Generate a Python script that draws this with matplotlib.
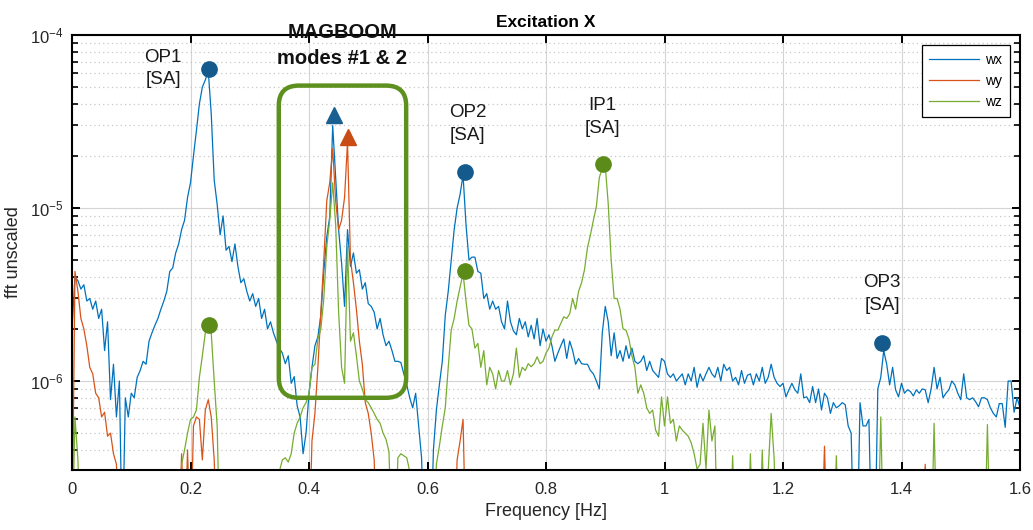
import numpy as np
import matplotlib
matplotlib.use("Agg")
import matplotlib.pyplot as plt
from matplotlib.patches import FancyBboxPatch
from matplotlib.transforms import IdentityTransform

plt.rcParams['font.family'] = ['Liberation Sans', 'DejaVu Sans']
plt.rcParams['mathtext.default'] = 'regular'

# ---------------- data (amplitudes in units of 1e-6) ----------------
freq_step = 0.005  # Hz between FFT bins

wx_u = [
    2.0, 4.0, 3.8, 3.4, 3.6, 2.9, 3.0, 2.6, 2.9, 2.3, 2.6, 1.5, 2.2, 0.78, 1.25, 0.62, 1.0, 0.1, 0.8, 0.62,
    0.85, 0.8, 1.05, 1.15, 1.3, 1.25, 1.7, 1.9, 2.1, 2.3, 2.6, 2.9, 3.3, 4.3, 4.5, 5.5, 6.2, 7.5, 8.5, 11.5,
    14.0, 20, 28, 40, 50, 55, 62, 35, 14.5, 10.5, 7.0, 9.0, 5.7, 6.0, 4.9, 6.2, 4.6, 3.7, 3.9, 3.3,
    2.9, 3.2, 2.7, 3.0, 2.3, 2.6, 2.0, 2.2, 1.9, 1.7, 1.55, 1.45, 1.26, 1.4, 0.97, 1.06, 0.72, 0.62, 0.38, 0.5,
    0.85, 1.2, 1.6, 1.8, 2.4, 4.3, 6.8, 8.9, 30, 15, 7.5, 4.8, 2.7, 7.5, 4.6, 5.5, 4.2, 4.4, 3.4, 3.7,
    2.8, 2.7, 2.5, 2.0, 2.3, 1.85, 1.6, 1.7, 1.5, 1.3, 1.3, 1.28, 1.1, 0.95, 0.8, 0.7, 0.85, 0.55, 0.36, 0.1,
    0.1, 0.1, 0.4, 0.68, 0.95, 1.3, 2.4, 3.3, 5.0, 7.5, 10, 12, 15.5, 8.0, 5.0, 5.2, 5.2, 4.3, 4.2, 3.0,
    3.2, 2.6, 2.9, 2.6, 2.7, 2.2, 2.0, 2.9, 2.2, 1.95, 1.85, 2.3, 2.0, 2.2, 1.8, 2.1, 1.75, 2.3, 1.6, 2.0,
    1.7, 1.85, 1.6, 1.3, 1.45, 1.6, 1.75, 1.35, 1.7, 1.5, 1.25, 1.35, 1.26, 1.25, 1.25, 1.15, 1.1, 1.0, 0.9, 1.9,
    2.7, 2.2, 1.4, 1.9, 1.35, 1.5, 1.3, 1.6, 1.35, 1.55, 1.3, 1.26, 1.3, 1.4, 1.15, 1.3, 1.15, 1.1, 1.05, 1.35,
    1.3, 1.1, 1.05, 1.1, 1.0, 1.05, 1.1, 0.95, 1.1, 1.0, 1.2, 0.92, 1.1, 1.0, 1.1, 1.2, 1.1, 1.05, 1.2, 1.0,
    1.25, 1.15, 1.2, 1.0, 1.05, 0.95, 1.15, 0.97, 1.08, 1.1, 0.95, 1.1, 1.0, 1.2, 0.97, 1.05, 1.25, 1.05, 0.97, 0.93,
    0.97, 0.81, 0.89, 0.97, 0.89, 0.85, 1.1, 0.8, 0.81, 0.75, 0.93, 0.75, 0.9, 0.68, 0.85, 0.8, 0.65, 0.75, 0.7, 0.72,
    0.75, 0.73, 0.55, 0.5, 0.1, 0.1, 0.75, 0.55, 0.55, 0.6, 0.1, 0.1, 0.9, 1.05, 1.5, 1.25, 0.95, 1.2, 0.89, 0.81,
    0.97, 0.85, 0.89, 0.87, 0.82, 0.89, 0.85, 0.9, 0.89, 0.75, 0.9, 1.2, 0.9, 1.05, 0.8, 0.85, 0.89, 1.0, 0.95, 0.85,
    0.78, 1.1, 0.8, 0.78, 0.8, 0.76, 0.71, 0.8, 0.8, 0.78, 0.7, 0.65, 0.62, 0.74, 0.74, 0.54, 1.0, 1.0, 0.66, 0.8, 0.7,
]

wy_u = [
    0.1, 4.3, 3.3, 2.3, 2.0, 1.6, 1.2, 1.1, 0.85, 0.8, 0.62, 0.66, 0.48, 0.5, 0.38, 0.33, 0.1, 0.1, 0.1, 0.1,
    0.1, 0.1, 0.1, 0.1, 0.1, 0.1, 0.1, 0.1, 0.1, 0.1, 0.1, 0.1, 0.1, 0.1, 0.1, 0.1, 0.1, 0.38, 0.1, 0.4,
    0.1, 0.55, 0.62, 0.6, 0.35, 0.68, 0.78, 0.62, 0.35, 0.1, 0.1, 0.1, 0.1, 0.1, 0.1, 0.1, 0.1, 0.1, 0.1, 0.1,
    0.1, 0.1, 0.1, 0.1, 0.1, 0.1, 0.1, 0.1, 0.1, 0.1, 0.1, 0.1, 0.1, 0.1, 0.1, 0.1, 0.1, 0.1, 0.1, 0.1,
    0.1, 0.45, 0.65, 1.2, 2.5, 5.0, 11, 14, 22, 11, 7.5, 8.5, 11.5, 24, 5.0, 3.7, 2.6, 1.7, 1.25, 0.75,
    0.65, 0.5, 0.35, 0.1, 0.1, 0.1, 0.1, 0.1, 0.1, 0.1, 0.1, 0.1, 0.1, 0.1, 0.1, 0.1, 0.1, 0.1, 0.1, 0.1,
    0.1, 0.1, 0.1, 0.1, 0.1, 0.1, 0.1, 0.1, 0.1, 0.1, 0.35, 0.45, 0.6, 0.1, 0.1, 0.1, 0.1, 0.1, 0.1, 0.1,
    0.1, 0.1, 0.1, 0.1, 0.1, 0.1, 0.1, 0.1, 0.1, 0.1, 0.1, 0.1, 0.1, 0.1, 0.1, 0.1, 0.1, 0.1, 0.1, 0.1,
    0.1, 0.1, 0.1, 0.1, 0.1, 0.1, 0.1, 0.1, 0.1, 0.1, 0.1, 0.1, 0.1, 0.1, 0.1, 0.1, 0.1, 0.1, 0.1, 0.1,
    0.1, 0.1, 0.1, 0.1, 0.1, 0.1, 0.1, 0.1, 0.1, 0.1, 0.1, 0.1, 0.1, 0.1, 0.1, 0.1, 0.1, 0.1, 0.1, 0.1,
    0.1, 0.1, 0.1, 0.1, 0.1, 0.1, 0.1, 0.1, 0.1, 0.1, 0.1, 0.1, 0.1, 0.1, 0.1, 0.1, 0.1, 0.1, 0.1, 0.1,
    0.1, 0.1, 0.1, 0.1, 0.1, 0.1, 0.1, 0.1, 0.1, 0.1, 0.1, 0.1, 0.1, 0.1, 0.1, 0.1, 0.3, 0.1, 0.1, 0.1,
    0.1, 0.1, 0.1, 0.1, 0.1, 0.1, 0.1, 0.1, 0.1, 0.1, 0.1, 0.1, 0.1, 0.1, 0.42, 0.1, 0.1, 0.1, 0.1, 0.1,
    0.1, 0.1, 0.1, 0.1, 0.1, 0.1, 0.1, 0.1, 0.1, 0.1, 0.1, 0.1, 0.1, 0.1, 0.1, 0.1, 0.1, 0.1, 0.1, 0.1,
    0.1, 0.1, 0.1, 0.1, 0.1, 0.1, 0.1, 0.1, 0.33, 0.1, 0.1, 0.1, 0.1, 0.1, 0.1, 0.1, 0.1, 0.1, 0.1, 0.1,
    0.1, 0.1, 0.1, 0.1, 0.1, 0.1, 0.1, 0.1, 0.1, 0.1, 0.1, 0.1, 0.1, 0.1, 0.1, 0.1, 0.1, 0.1, 0.1, 0.1, 0.1,
]

wz_u = [
    0.1, 0.62, 0.35, 0.1, 0.1, 0.1, 0.1, 0.1, 0.1, 0.1, 0.1, 0.1, 0.1, 0.1, 0.1, 0.1, 0.1, 0.1, 0.1, 0.1,
    0.1, 0.1, 0.1, 0.1, 0.1, 0.1, 0.1, 0.1, 0.1, 0.1, 0.1, 0.1, 0.1, 0.1, 0.1, 0.1, 0.1, 0.33, 0.4, 0.5,
    0.6, 0.62, 0.68, 1.05, 1.4, 1.9, 2.05, 1.9, 1.0, 0.55, 0.1, 0.1, 0.1, 0.1, 0.1, 0.1, 0.1, 0.1, 0.1, 0.1,
    0.1, 0.1, 0.1, 0.1, 0.1, 0.1, 0.1, 0.1, 0.1, 0.1, 0.3, 0.35, 0.36, 0.34, 0.38, 0.5, 0.57, 0.62, 0.7, 0.75,
    0.85, 1.2, 1.25, 1.75, 2.0, 3.0, 6.0, 8.5, 14, 8.0, 2.5, 1.2, 0.97, 6.0, 1.7, 1.9, 1.4, 1.0, 0.9, 0.78,
    0.75, 0.7, 0.65, 0.6, 0.57, 0.5, 0.46, 0.39, 0.1, 0.1, 0.36, 0.38, 0.37, 0.36, 0.3, 0.1, 0.1, 0.1, 0.1, 0.1,
    0.1, 0.1, 0.1, 0.33, 0.42, 0.55, 0.7, 1.2, 1.97, 2.3, 2.9, 3.5, 4.2, 2.9, 2.1, 2.0, 1.55, 1.65, 1.2, 1.5,
    0.95, 1.2, 1.1, 0.9, 1.15, 1.0, 1.0, 1.15, 0.95, 1.1, 1.55, 1.05, 1.2, 1.15, 1.26, 1.21, 1.26, 1.38, 1.26, 1.3,
    1.45, 1.55, 1.8, 1.97, 1.97, 2.15, 2.35, 2.3, 2.45, 3.0, 2.6, 3.3, 3.7, 4.4, 5.9, 7.0, 8.5, 10.2, 15, 17,
    17.5, 10.6, 5.0, 3.0, 3.0, 2.6, 2.0, 1.97, 1.75, 1.4, 1.2, 0.85, 0.95, 0.85, 0.7, 0.65, 0.68, 0.52, 0.48, 0.81,
    0.55, 0.81, 0.57, 0.6, 0.45, 0.55, 0.52, 0.5, 0.48, 0.44, 0.38, 0.31, 0.33, 0.57, 0.31, 0.68, 0.45, 0.55, 0.1, 0.1,
    0.1, 0.1, 0.1, 0.37, 0.1, 0.1, 0.1, 0.1, 0.1, 0.38, 0.1, 0.1, 0.1, 0.4, 0.1, 0.3, 0.65, 0.36, 0.1, 0.1,
    0.1, 0.1, 0.1, 0.1, 0.1, 0.1, 0.1, 0.1, 0.1, 0.1, 0.1, 0.1, 0.1, 0.1, 0.1, 0.1, 0.1, 0.1, 0.37, 0.1,
    0.1, 0.1, 0.1, 0.1, 0.1, 0.1, 0.1, 0.1, 0.1, 0.1, 0.1, 0.1, 0.1, 0.62, 0.1, 0.1, 0.1, 0.1, 0.1, 0.1,
    0.1, 0.1, 0.1, 0.1, 0.1, 0.1, 0.1, 0.1, 0.1, 0.1, 0.1, 0.57, 0.1, 0.1, 0.1, 0.1, 0.1, 0.1, 0.1, 0.1,
    0.1, 0.1, 0.1, 0.1, 0.1, 0.1, 0.1, 0.1, 0.1, 0.56, 0.1, 0.1, 0.1, 0.1, 0.1, 0.1, 0.1, 0.1, 0.1, 0.1, 0.1,
]

# marked peaks
sa_blue_freq = [0.232, 0.663, 1.367]
sa_blue_val_u = [64, 16.1, 1.65]
sa_green_freq = [0.232, 0.663, 0.896]
sa_green_val_u = [2.1, 4.3, 17.9]
mag_blue_freq, mag_blue_val_u = [0.442], [34.5]
mag_red_freq, mag_red_val_u = [0.466], [25.7]

mode_labels = ['OP1\n[SA]', 'OP2\n[SA]', 'IP1\n[SA]', 'OP3\n[SA]']
mode_label_freq = [0.154, 0.668, 0.895, 1.367]
mode_label_val_u = [64, 30.5, 33.5, 3.2]

series_names = ['wx', 'wy', 'wz']
series_colors = ['#0072BD', '#D95319', '#77AC30']

U = 1e-6
# ---------------------------------------------------------------

fig = plt.figure(figsize=(10.33, 5.30), dpi=100)
ax = fig.add_axes([72 / 1033, 60 / 530, (1020 - 72) / 1033, (470 - 35) / 530])

for vals, name, col in zip([wx_u, wy_u, wz_u], series_names, series_colors):
    f = np.arange(len(vals)) * freq_step
    ax.plot(f, np.array(vals) * U, color=col, lw=0.9, label=name)

ax.set_yscale('log')
ax.set_xlim(0, 1.6)
ax.set_ylim(3.06e-7, 1e-4)

# markers
ax.plot(sa_blue_freq, np.array(sa_blue_val_u) * U, 'o', ms=11, color='#145a8c', zorder=5)
ax.plot(sa_green_freq, np.array(sa_green_val_u) * U, 'o', ms=11, color='#5b8c1a', zorder=5)
ax.plot(mag_blue_freq, np.array(mag_blue_val_u) * U, '^', ms=11, color='#1a5f92', zorder=5)
ax.plot(mag_red_freq, np.array(mag_red_val_u) * U, '^', ms=11, color='#c84c14', zorder=5)

for lab, fx, vy in zip(mode_labels, mode_label_freq, mode_label_val_u):
    ax.text(fx, vy * U, lab, ha='center', va='center', fontsize=13.5,
            linespacing=1.45, color='#1a1a1a', zorder=6)

ax.text(0.456, 87 * U, 'MAGBOOM\nmodes #1 & 2', ha='center', va='center',
        fontsize=14.5, fontweight='bold', linespacing=1.45, color='#111111',
        clip_on=False, zorder=6)

# ticks / grid
ax.set_xticks([0, 0.2, 0.4, 0.6, 0.8, 1.0, 1.2, 1.4, 1.6])
ax.set_xticklabels(['0', '0.2', '0.4', '0.6', '0.8', '1', '1.2', '1.4', '1.6'])
ax.set_yticks([1e-6, 1e-5, 1e-4])
ax.set_yticklabels(['$10^{-6}$', '$10^{-5}$', '$10^{-4}$'])
ax.minorticks_on()
ax.xaxis.set_minor_locator(matplotlib.ticker.NullLocator())
ax.tick_params(which='both', direction='in', top=True, right=True, colors='black',
               labelcolor='#262626', labelsize=12)
ax.tick_params(which='major', length=6, width=1.4)
ax.tick_params(which='minor', length=4, width=1.2)
ax.tick_params(axis='x', pad=9)
ax.tick_params(axis='y', pad=6)
ax.grid(which='major', color='#d4d4d4', lw=0.8, ls='-')
ax.grid(which='minor', axis='y', color='#c8c8c8', lw=0.9, ls=(0, (1, 2.5)))
ax.set_axisbelow(True)
for s in ax.spines.values():
    s.set_linewidth(1.5)
    s.set_color('black')

ax.set_xlabel('Frequency [Hz]', fontsize=13, color='#262626', labelpad=4)
ax.set_ylabel('fft unscaled', fontsize=13, color='#262626', labelpad=6)
ax.set_title('Excitation X', fontsize=12.5, fontweight='bold', pad=6)

leg = ax.legend(loc='upper right', fontsize=10, handlelength=3.6, handletextpad=0.4,
                labelspacing=0.5, borderpad=0.55, borderaxespad=0.75,
                fancybox=False, framealpha=1, edgecolor='black')
leg.get_frame().set_linewidth(0.9)

# rounded box around the MAGBOOM modes
box_f = (0.349, 0.564)
box_v = (8.0e-7, 5.1e-5)
(x0d, y0d), (x1d, y1d) = ax.transData.transform([(box_f[0], box_v[0]), (box_f[1], box_v[1])])
box = FancyBboxPatch((x0d, y0d), x1d - x0d, y1d - y0d,
                     boxstyle='round,pad=0,rounding_size=20',
                     transform=IdentityTransform(), fill=False,
                     edgecolor='#5e9020', lw=3.2, zorder=7)
fig.add_artist(box)

fig.savefig('out.png', dpi=100)
